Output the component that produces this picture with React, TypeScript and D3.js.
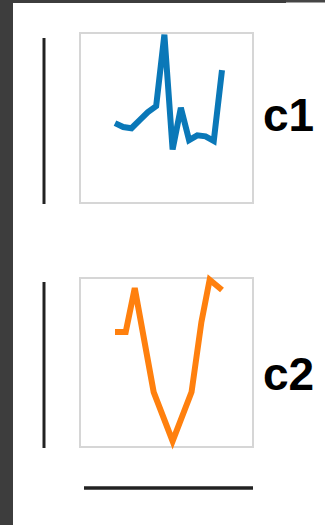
import React from "react";
import * as d3 from "d3";

const W = 325;
const H = 525;

// series c1 (index positions, values)
const c1X = [0, 1, 2, 3, 4, 5, 6, 7, 8, 9, 10, 11, 12, 13];
const c1Y = [47, 44.7, 44, 48.8, 53.5, 57, 99, 31.5, 56, 37, 39.8, 39.2, 36.5, 78.2];

// series c2
const c2X = [0, 1.3, 2.4, 4.7, 7.0, 9.3, 10.5, 11.5, 13];
const c2Y = [68, 68, 94, 32.5, 3.5, 32.5, 74, 99, 92.9];

const labels = ["c1", "c2"];
const colors = ["#0a78b8", "#ff800e"];

export default function App() {
  const panels = [
    { xs: c1X, ys: c1Y, top: 33, bottom: 203, vTop: 38, vBot: 204, labelY: 131 },
    { xs: c2X, ys: c2Y, top: 278, bottom: 447, vTop: 282, vBot: 448, labelY: 390 },
  ];
  const x = d3.scaleLinear().domain([0, 13]).range([115, 222]);
  return (
    <svg
      width={W}
      height={H}
      style={{ position: "fixed", left: 0, top: 0, display: "block", background: "#fff" }}
    >
      <rect x={0} y={0} width={13} height={H} fill="#3d3d3d" />
      <rect x={0} y={0} width={286} height={3} fill="#3d3d3d" />
      <rect x={286} y={0} width={W - 286} height={2.5} fill="#454545" />
      {panels.map((p, i) => {
        const y = d3.scaleLinear().domain([0, 100]).range([p.bottom, p.top]);
        const line = d3
          .line<number>()
          .x((_, k) => x(p.xs[k]))
          .y((v) => y(v));
        return (
          <g key={i}>
            <rect
              x={80}
              y={p.top}
              width={173}
              height={p.bottom - p.top}
              fill="none"
              stroke="#d6d6d6"
              strokeWidth={2}
            />
            <line x1={44} x2={44} y1={p.vTop} y2={p.vBot} stroke="#222" strokeWidth={3} />
            <path
              d={line(p.ys) || ""}
              fill="none"
              stroke={colors[i]}
              strokeWidth={6}
              strokeLinejoin="miter"
              strokeMiterlimit={4}
            />
            <text
              x={263}
              y={p.labelY}
              fontFamily="Liberation Sans, Arial, sans-serif"
              fontWeight="bold"
              fontSize={46}
              fill="#000"
            >
              {labels[i]}
            </text>
          </g>
        );
      })}
      <line x1={84} x2={253} y1={488} y2={488} stroke="#222" strokeWidth={3.5} />
    </svg>
  );
}
